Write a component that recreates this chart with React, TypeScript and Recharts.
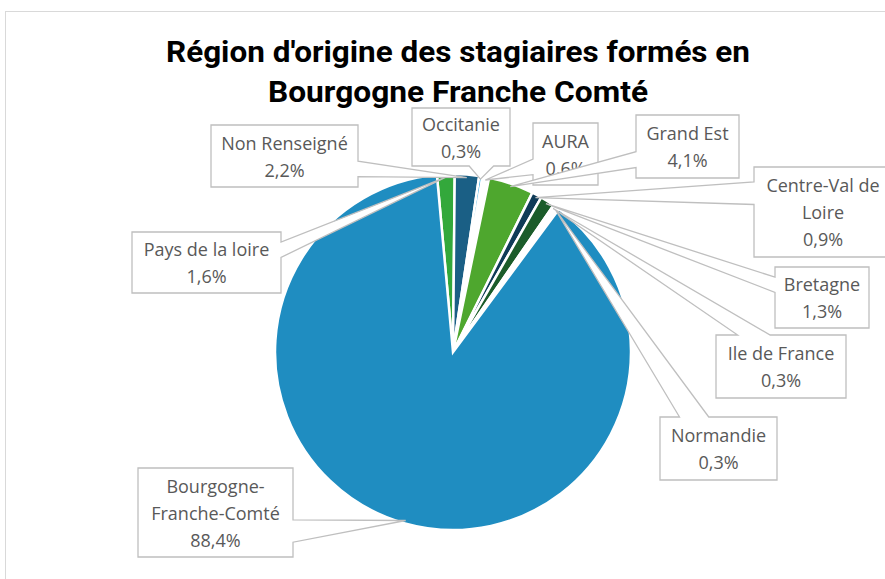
import React from 'react';
import { PieChart, Pie, Cell } from 'recharts';

// ---- data ----
const categories = [
  'Pays de la loire',
  'Non Renseigné',
  'Occitanie',
  'AURA',
  'Grand Est',
  'Centre-Val de Loire',
  'Bretagne',
  'Ile de France',
  'Normandie',
  'Bourgogne-Franche-Comté',
];
const shares = [1.6, 2.2, 0.3, 0.6, 4.1, 0.9, 1.3, 0.3, 0.3, 88.4];
const labelLines = [
  ['Pays de la loire'],
  ['Non Renseigné'],
  ['Occitanie'],
  ['AURA'],
  ['Grand Est'],
  ['Centre-Val de', 'Loire'],
  ['Bretagne'],
  ['Ile de France'],
  ['Normandie'],
  ['Bourgogne-', 'Franche-Comté'],
];
const titleLines = ["Région d'origine des stagiaires formés en", 'Bourgogne Franche Comté'];

// ---- styles / layout ----
const sliceColors = [
  '#33a83b',
  '#1a5f85',
  '#1fa0dc',
  '#ffffff',
  '#4ea72e',
  '#0f3b57',
  '#1b5c2a',
  '#ffffff',
  '#ffffff',
  '#1f8dc1',
];
const labelBoxes = [
  { x: 132, y: 232, w: 149, h: 61 },
  { x: 211, y: 125, w: 147, h: 62 },
  { x: 412, y: 108, w: 98, h: 58 },
  { x: 533, y: 123, w: 65, h: 62 },
  { x: 636, y: 115, w: 103, h: 63 },
  { x: 754, y: 167, w: 138, h: 90 },
  { x: 775, y: 267, w: 94, h: 61 },
  { x: 716, y: 335, w: 130, h: 63 },
  { x: 660, y: 417, w: 117, h: 63 },
  { x: 138, y: 468, w: 155, h: 89 },
];

const chartData = categories.map((name, i) => ({ name, value: shares[i] }));
const RAD = Math.PI / 180;

function calloutPath(x: number, y: number, w: number, h: number, tx: number, ty: number) {
  const hc = x + w / 2;
  const vc = y + h / 2;
  const dxPos = tx - hc;
  const dyPos = ty - vc;
  const dq = (dxPos * h) / w;
  const dz = Math.abs(dyPos) - Math.abs(dq);
  const xg1 = dxPos > 0 ? 7 : 2;
  const xg2 = dxPos > 0 ? 10 : 5;
  const yg1 = dyPos > 0 ? 7 : 2;
  const yg2 = dyPos > 0 ? 10 : 5;
  const r = x + w;
  const b = y + h;
  if (dz > 0) {
    const xa = x + (w * xg1) / 12;
    const xb = x + (w * xg2) / 12;
    if (dyPos < 0) {
      return `M${x},${y} L${xa},${y} L${tx},${ty} L${xb},${y} L${r},${y} L${r},${b} L${x},${b} Z`;
    }
    return `M${x},${y} L${r},${y} L${r},${b} L${xb},${b} L${tx},${ty} L${xa},${b} L${x},${b} Z`;
  }
  const ya = y + (h * yg1) / 12;
  const yb = y + (h * yg2) / 12;
  if (dxPos < 0) {
    return `M${x},${y} L${r},${y} L${r},${b} L${x},${b} L${x},${yb} L${tx},${ty} L${x},${ya} Z`;
  }
  return `M${x},${y} L${r},${y} L${r},${ya} L${tx},${ty} L${r},${yb} L${r},${b} L${x},${b} Z`;
}

const renderCallout = (props: any) => {
  const { cx, cy, midAngle, outerRadius, index, value } = props;
  const box = labelBoxes[index];
  const lines = labelLines[index];
  const rr = outerRadius - 3;
  const tx = cx + rr * Math.cos(-midAngle * RAD);
  const ty = cy + rr * Math.sin(-midAngle * RAD);
  const allLines = [...lines, `${Number(value).toFixed(1).replace('.', ',')}%`];
  const lh = 27;
  const cyBox = box.y + box.h / 2;
  const first = cyBox - ((allLines.length - 1) * lh) / 2;
  return (
    <g key={`callout-${index}`}>
      <path
        d={calloutPath(box.x, box.y, box.w, box.h, tx, ty)}
        fill="#ffffff"
        stroke="#bfbfbf"
        strokeWidth={1.3}
        strokeLinejoin="miter"
      />
      {allLines.map((t, j) => (
        <text
          key={j}
          x={box.x + box.w / 2}
          y={first + j * lh}
          textAnchor="middle"
          dominantBaseline="central"
          fontFamily="'Open Sans', 'Noto Sans', sans-serif"
          fontSize={18}
          fill="#595959"
        >
          {t}
        </text>
      ))}
    </g>
  );
};

export default function App() {
  return (
    <div style={{ position: 'absolute', left: 0, top: 0, width: 885, height: 579, overflow: 'hidden', background: '#fff' }}>
      <div
        style={{
          position: 'absolute',
          left: 5,
          top: 11,
          width: 920,
          height: 620,
          border: '1px solid #d9d9d9',
          boxSizing: 'border-box',
        }}
      />
      <div style={{ position: 'absolute', left: 0, top: 0 }}>
        <PieChart width={885} height={579} margin={{ top: 0, right: 0, bottom: 0, left: 0 }}>
          <Pie
            data={chartData}
            dataKey="value"
            nameKey="name"
            cx={453}
            cy={352}
            outerRadius={178}
            startAngle={95.2}
            endAngle={95.2 - 360}
            stroke="#ffffff"
            strokeWidth={2.5}
            labelLine={false}
            label={renderCallout}
            isAnimationActive={false}
          >
            {chartData.map((d, i) => (
              <Cell key={d.name} fill={sliceColors[i]} />
            ))}
          </Pie>
        </PieChart>
      </div>
      <svg width={885} height={579} style={{ position: 'absolute', left: 0, top: 0, pointerEvents: 'none' }}>
        <text
          x={458}
          y={62}
          textAnchor="middle"
          fontFamily="Roboto, 'Liberation Sans', sans-serif"
          fontWeight={700}
          fontSize={30}
          fill="#000"
          textLength={584}
          lengthAdjust="spacingAndGlyphs"
        >
          {titleLines[0]}
        </text>
        <text
          x={458}
          y={102}
          textAnchor="middle"
          fontFamily="Roboto, 'Liberation Sans', sans-serif"
          fontWeight={700}
          fontSize={30}
          fill="#000"
          textLength={380}
          lengthAdjust="spacingAndGlyphs"
        >
          {titleLines[1]}
        </text>
      </svg>
    </div>
  );
}
